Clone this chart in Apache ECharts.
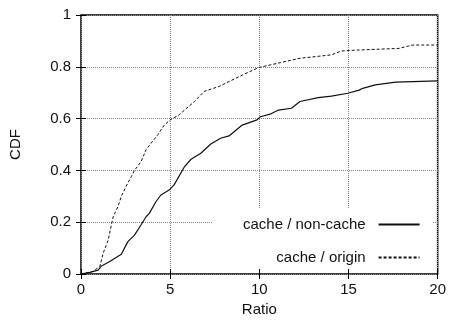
<!DOCTYPE html>
<html>
<head>
<meta charset="utf-8">
<script src="https://cdn.jsdelivr.net/npm/echarts@6/dist/echarts.min.js"></script>
<style>
html,body{margin:0;padding:0;background:#fff;}
#main{width:449px;height:322px;}
</style>
</head>
<body>
<div id="main"></div>
<script>
// series names
var seriesNames=['cache / non-cache','cache / origin'];
// cache / non-cache (solid)
var nonCacheX=[0,0.5,0.96,1.15,1.61,2.26,2.35,2.63,3.0,3.37,3.65,3.83,4.2,4.48,4.94,5.22,5.33,5.8,6.17,6.72,7.28,7.83,8.3,9.04,9.87,10.06,10.6,11.07,11.8,12.28,13.3,14.04,14.96,15.6,15.8,16.5,17.65,20];
var nonCacheY=[0,0.006,0.015,0.031,0.048,0.076,0.082,0.125,0.15,0.19,0.221,0.234,0.279,0.305,0.324,0.344,0.35,0.414,0.443,0.466,0.502,0.524,0.533,0.575,0.595,0.607,0.617,0.633,0.64,0.666,0.681,0.687,0.698,0.71,0.717,0.73,0.741,0.746];
// cache / origin (dashed)
var originX=[0,0.68,1.06,1.24,1.52,1.8,2.07,2.26,2.54,2.82,3.0,3.37,3.65,3.93,4.3,4.67,5.04,5.5,5.8,6.35,6.9,7.74,8.3,9.04,9.96,10.6,11.17,12.28,14.04,14.6,15.6,17.83,18.57,20];
var originY=[0,0.01,0.03,0.08,0.13,0.22,0.26,0.30,0.34,0.376,0.40,0.434,0.48,0.505,0.537,0.575,0.597,0.614,0.633,0.665,0.705,0.724,0.743,0.768,0.797,0.807,0.816,0.833,0.846,0.861,0.865,0.871,0.884,0.884];

function pairs(xs,ys){
	var out=[];
	for(var i=0;i<xs.length;i++)out.push([xs[i],ys[i]]);
	return out;
}

var myChart=echarts.init(document.getElementById('main'));
var font='Liberation Sans';
var option={
	animation:false,
	textStyle:{fontFamily:font},
	grid:{left:79,right:10,top:15,bottom:48,show:true,borderColor:'#000',borderWidth:1.5,backgroundColor:'transparent'},
	legend:{
		show:true,
		orient:'vertical',
		left:213,
		top:208,
		align:'right',
		itemWidth:41,
		itemHeight:14,
		itemGap:18,
		padding:[9,12,3,30],
		backgroundColor:'#fff',
		itemStyle:{opacity:0},
		textStyle:{fontFamily:font,fontSize:15,color:'#111',padding:[0,8,0,0]},
		data:[seriesNames[0],seriesNames[1]]
	},
	xAxis:[
		{
			type:'value',min:0,max:20,interval:5,
			name:'Ratio',nameLocation:'middle',nameGap:23,
			nameTextStyle:{fontFamily:font,fontSize:15,color:'#111'},
			axisLine:{show:false},
			axisTick:{inside:true,length:5,lineStyle:{color:'#000'}},
			axisLabel:{margin:8,fontFamily:font,fontSize:15,color:'#111'},
			splitLine:{show:true,lineStyle:{color:'#888',type:[1,1],width:1}}
		},
		{
			type:'value',min:0,max:20,interval:5,position:'top',
			axisLine:{show:false},
			axisTick:{inside:true,length:5,lineStyle:{color:'#000'}},
			axisLabel:{show:false},
			splitLine:{show:false}
		}
	],
	yAxis:[
		{
			type:'value',min:0,max:1,interval:0.2,
			name:'CDF',nameLocation:'middle',nameGap:58,
			nameTextStyle:{fontFamily:font,fontSize:15,color:'#111'},
			axisLine:{show:false},
			axisTick:{inside:true,length:5,lineStyle:{color:'#000'}},
			axisLabel:{margin:10,fontFamily:font,fontSize:15,color:'#111'},
			splitLine:{show:true,lineStyle:{color:'#888',type:[1,1],width:1}}
		},
		{
			type:'value',min:0,max:1,interval:0.2,position:'right',
			axisLine:{show:false},
			axisTick:{inside:true,length:5,lineStyle:{color:'#000'}},
			axisLabel:{show:false},
			splitLine:{show:false}
		}
	],
	series:[
		{
			name:seriesNames[0],type:'line',symbol:'none',
			lineStyle:{color:'#111',width:1.2,type:'solid'},
			itemStyle:{color:'#111'},
			data:pairs(nonCacheX,nonCacheY)
		},
		{
			name:seriesNames[1],type:'line',symbol:'none',
			lineStyle:{color:'#111',width:1,type:[3,2]},
			itemStyle:{color:'#111'},
			data:pairs(originX,originY)
		}
	]
};
myChart.setOption(option);
</script>
</body>
</html>
